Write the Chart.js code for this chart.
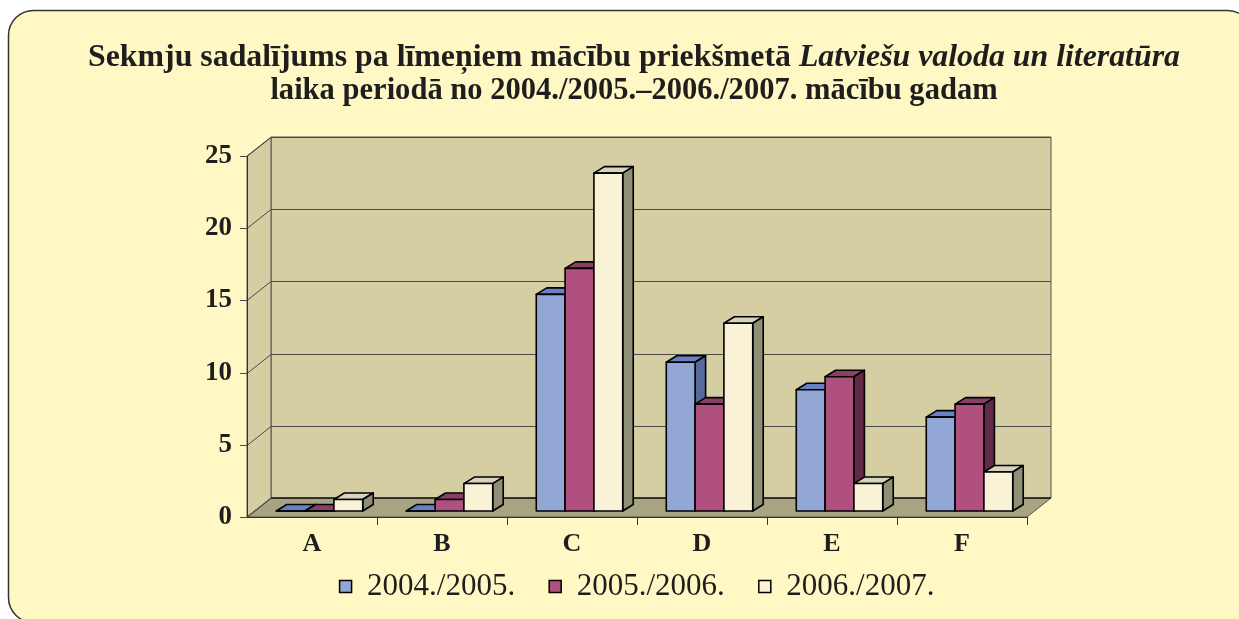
<!DOCTYPE html>
<html>
<head>
<meta charset="utf-8">
<script src="https://cdn.jsdelivr.net/npm/chart.js@4"></script>
<style>
  html, body { margin: 0; padding: 0; background: #fff; }
  canvas { display: block; }
</style>
</head>
<body>
<canvas id="grafiks" width="1239" height="619"></canvas>
<script>
// dati
const categories = ['A', 'B', 'C', 'D', 'E', 'F'];
const seriesLabels = ['2004./2005.', '2005./2006.', '2006./2007.'];
const values0405 = [0, 0, 15, 10.3, 8.4, 6.5];
const values0506 = [0, 0.8, 16.8, 7.4, 9.3, 7.4];
const values0607 = [0.8, 1.9, 23.4, 13, 1.9, 2.7];
const yTicks = [0, 5, 10, 15, 20, 25];

// krasas: priekša, augša, sāns
const frontColors = ['#93a7d6', '#b0507f', '#f9f2d7'];
const topColors = ['#6a80c4', '#8b3f66', '#d6d4bc'];
const sideColors = ['#566a9e', '#632a48', '#8f8f78'];

const SERIF = '"Liberation Serif", "Times New Roman", serif';
const DX = 24, DY = -19;      // priekša -> aizmugures siena
const BX = 7.5, BY = -6;      // stabiņu plakne
const BDX = 10.5, BDY = -6.5; // stabiņu dziļums

function poly(ctx, pts, fill) {
    ctx.beginPath();
    ctx.moveTo(pts[0][0], pts[0][1]);
    for (let i = 1; i < pts.length; i++) ctx.lineTo(pts[i][0], pts[i][1]);
    ctx.closePath();
    ctx.fillStyle = fill;
    ctx.fill();
    ctx.stroke();
}

function drawTitle(ctx) {
    const p1 = 'Sekmju sadalījums pa līmeņiem mācību priekšmetā ';
    const p2 = 'Latviešu valoda un literatūra';
    const l2 = 'laika periodā no 2004./2005.–2006./2007. mācību gadam';
    let size = 26;
    ctx.font = 'bold ' + size + 'px ' + SERIF;
    let w1 = ctx.measureText(p1).width;
    ctx.font = 'italic bold ' + size + 'px ' + SERIF;
    let w2 = ctx.measureText(p2).width;
    size = size * 1092 / (w1 + w2);
    ctx.font = 'bold ' + size + 'px ' + SERIF;
    w1 = ctx.measureText(p1).width;
    ctx.font = 'italic bold ' + size + 'px ' + SERIF;
    w2 = ctx.measureText(p2).width;
    ctx.fillStyle = '#1e1e1e';
    ctx.textBaseline = 'alphabetic';
    ctx.textAlign = 'left';
    let x = 634 - (w1 + w2) / 2;
    ctx.font = 'bold ' + size + 'px ' + SERIF;
    ctx.fillText(p1, x, 66);
    ctx.font = 'italic bold ' + size + 'px ' + SERIF;
    ctx.fillText(p2, x + w1, 66);
    ctx.font = 'bold ' + (size * 0.96) + 'px ' + SERIF;
    ctx.textAlign = 'center';
    ctx.fillText(l2, 634, 99);
}

const plugin3d = {
    id: 'plugin3d',
    beforeDraw(chart) {
        const ctx = chart.ctx;
        ctx.save();
        ctx.fillStyle = '#fff';
        ctx.fillRect(0, 0, chart.width, chart.height);
        ctx.beginPath();
        ctx.roundRect(8.5, 10.5, 1244, 612, 25);
        ctx.fillStyle = '#fff8c5';
        ctx.fill();
        ctx.lineWidth = 1.5;
        ctx.strokeStyle = '#333';
        ctx.stroke();
        drawTitle(ctx);
        ctx.restore();
    },
    beforeDatasetsDraw(chart) {
        const ctx = chart.ctx;
        const xs = chart.scales.x, ys = chart.scales.y;
        const L = xs.left, R = xs.right;
        const y0 = ys.getPixelForValue(0), yTop = ys.getPixelForValue(25);
        ctx.save();
        ctx.lineJoin = 'round';
        // sienas
        ctx.strokeStyle = '#555';
        ctx.lineWidth = 1;
        poly(ctx, [[L + DX, yTop + DY], [R + DX, yTop + DY], [R + DX, y0 + DY], [L + DX, y0 + DY]], '#d4cea2');
        poly(ctx, [[L, yTop], [L + DX, yTop + DY], [L + DX, y0 + DY], [L, y0]], '#d4cea2');
        poly(ctx, [[L, y0], [R, y0], [R + DX, y0 + DY], [L + DX, y0 + DY]], '#a8a482');
        // režģa līnijas
        ctx.strokeStyle = '#4a4a4a';
        ctx.beginPath();
        yTicks.forEach(v => {
            const py = Math.round(ys.getPixelForValue(v)) + 0.5;
            ctx.moveTo(L, py);
            ctx.lineTo(L + DX, py + DY);
            ctx.lineTo(R + DX, py + DY);
            ctx.moveTo(L - 7, py);
            ctx.lineTo(L, py);
        });
        ctx.stroke();
        ctx.strokeStyle = '#222';
        ctx.lineWidth = 1.5;
        ctx.beginPath();
        ctx.moveTo(L + DX, y0 + DY);
        ctx.lineTo(R + DX, y0 + DY);
        ctx.stroke();
        // asis
        ctx.strokeStyle = '#333';
        ctx.lineWidth = 1;
        ctx.beginPath();
        ctx.moveTo(L + 0.5, yTop);
        ctx.lineTo(L + 0.5, y0);
        ctx.moveTo(L, Math.round(y0) + 0.5);
        ctx.lineTo(R, Math.round(y0) + 0.5);
        const step = (R - L) / categories.length;
        for (let k = 1; k <= categories.length; k++) {
            const px = Math.round(L + k * step) + 0.5;
            ctx.moveTo(px, y0);
            ctx.lineTo(px, y0 + 8);
        }
        ctx.stroke();
        // stabiņi
        ctx.strokeStyle = '#000';
        ctx.lineWidth = 1.6;
        chart.data.datasets.forEach((ds, i) => {
            chart.getDatasetMeta(i).data.forEach(el => {
                const p = el.getProps(['x', 'y', 'base', 'width'], true);
                const l = p.x - p.width / 2 + BX, r = p.x + p.width / 2 + BX;
                const t = p.y + BY, b = p.base + BY;
                poly(ctx, [[l, t], [r, t], [r + BDX, t + BDY], [l + BDX, t + BDY]], topColors[i]);
                poly(ctx, [[r, t], [r + BDX, t + BDY], [r + BDX, b + BDY], [r, b]], sideColors[i]);
                poly(ctx, [[l, t], [r, t], [r, b], [l, b]], frontColors[i]);
            });
        });
        ctx.restore();
        return false;
    }
};

const data = {
    labels: categories,
    datasets: [
        { label: seriesLabels[0], data: values0405 },
        { label: seriesLabels[1], data: values0506 },
        { label: seriesLabels[2], data: values0607 }
    ].map((d, i) => Object.assign(d, {
        backgroundColor: frontColors[i],
        borderColor: '#000',
        borderWidth: 1.5,
        barPercentage: 1,
        categoryPercentage: 0.665
    }))
};

const config = {
    type: 'bar',
    data,
    options: {
        responsive: false,
        animation: false,
        devicePixelRatio: 1,
        layout: { padding: { left: 0, right: 212, top: 156, bottom: 7 } },
        plugins: {
            title: { display: false },
            tooltip: { enabled: false },
            legend: {
                position: 'bottom',
                fullSize: false,
                labels: {
                    color: '#1e1e1e',
                    font: { family: SERIF, size: 31 },
                    boxWidth: 12,
                    boxHeight: 12,
                    padding: 34
                }
            }
        },
        scales: {
            x: {
                grid: { display: false, drawTicks: false },
                border: { display: false },
                // mirror, lai etiķetes netiktu apgrieztas šaurajā ass laukumā
                ticks: { mirror: true, color: '#1e1e1e', font: { family: SERIF, size: 26, weight: 'bold' }, padding: -43 },
                afterFit(s) { s.height = 20; }
            },
            y: {
                min: 0,
                max: 25,
                grid: { display: false, drawTicks: false },
                border: { display: false },
                ticks: { stepSize: 5, color: '#1e1e1e', font: { family: SERIF, size: 27, weight: 'bold' }, padding: 15 },
                afterFit(s) { s.width = 247; }
            }
        }
    },
    plugins: [plugin3d]
};

let myChart = new Chart(document.getElementById('grafiks'), config);
</script>
</body>
</html>
